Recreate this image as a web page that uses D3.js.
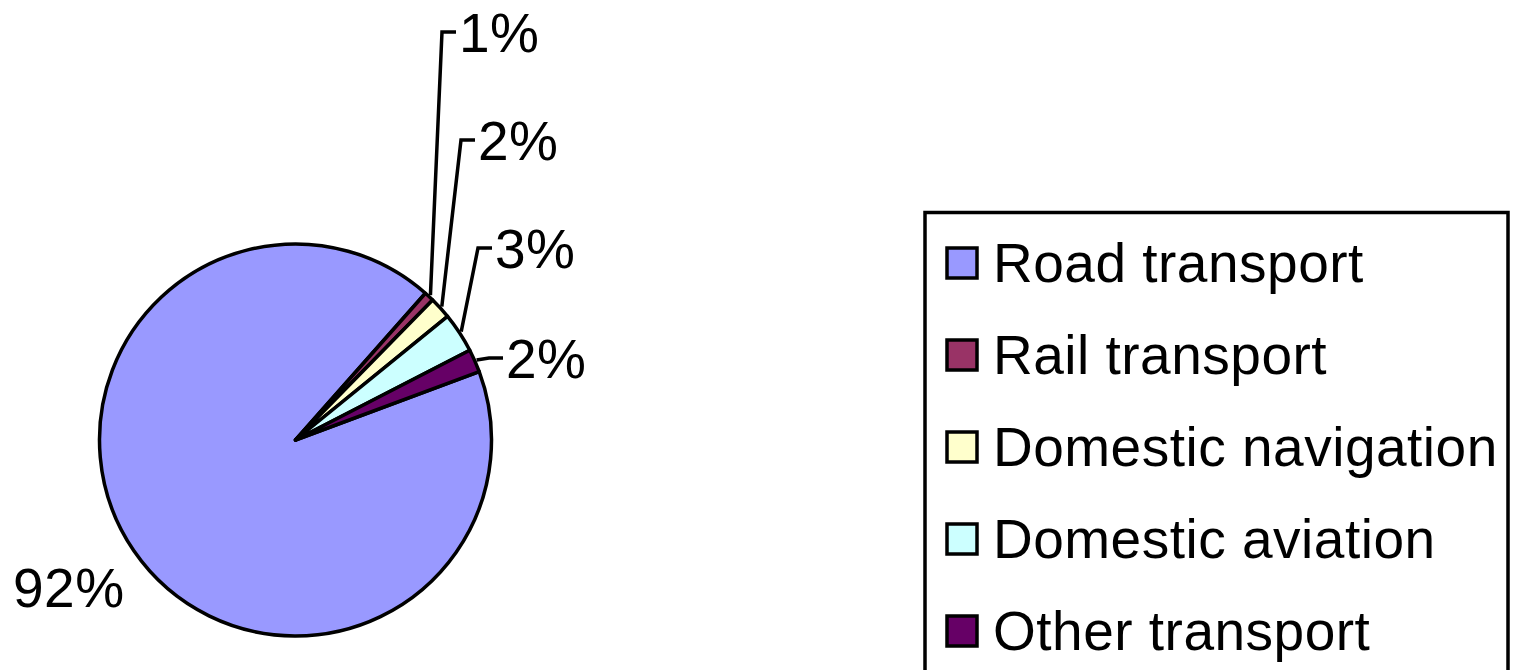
<!DOCTYPE html>
<html>
<head>
<meta charset="utf-8">
<script src="https://cdn.jsdelivr.net/npm/d3@7/dist/d3.min.js"></script>
<style>
  body { margin: 0; background: #fff; }
  text { font-family: "Liberation Sans", Arial, sans-serif; fill: #000; letter-spacing: 0.5px; }
</style>
</head>
<body>
<svg id="chart"></svg>
<script>
// data
const categories = ['Road transport', 'Rail transport', 'Domestic navigation', 'Domestic aviation', 'Other transport'];
const shares = [92.2, 0.8, 1.8, 3.3, 1.9];
const shareLabels = ['92%', '1%', '2%', '3%', '2%'];
const colors = ['#9999ff', '#993366', '#ffffcc', '#ccffff', '#660066'];

// layout
const width = 1516, height = 670;
const cx = 295.5, cy = 440, radius = 196;
const startDeg = 69.6;
const fontSize = 55;
// where the data labels sit (text start x, baseline y); leader = has a leader line
const labelSpots = [
  { x: 13, y: 607, leader: false },
  { x: 459, y: 52, leader: true },
  { x: 478, y: 160, leader: true },
  { x: 495, y: 268, leader: true },
  { x: 506, y: 378, leader: true }
];

const svg = d3.select('#chart').attr('width', width).attr('height', height);

const pie = d3.pie()
  .sort(null)
  .value(d => d)
  .startAngle(startDeg * Math.PI / 180)
  .endAngle((startDeg + 360) * Math.PI / 180);

const arcs = pie(shares);
const arc = d3.arc().innerRadius(0).outerRadius(radius);

const g = svg.append('g').attr('transform', `translate(${cx},${cy})`);

g.selectAll('path')
  .data(arcs)
  .join('path')
  .attr('d', arc)
  .attr('fill', (d, i) => colors[i])
  .attr('stroke', '#000')
  .attr('stroke-width', 3.5)
  .attr('stroke-linejoin', 'round');

// labels + leader lines
arcs.forEach((a, i) => {
  const spot = labelSpots[i];
  if (spot.leader) {
    const mid = (a.startAngle + a.endAngle) / 2;
    const sx = cx + (radius + 2) * Math.sin(mid);
    const sy = cy - (radius + 2) * Math.cos(mid);
    const ly = spot.y - 20;
    svg.append('polyline')
      .attr('points', `${sx},${sy} ${spot.x - 17},${ly} ${spot.x - 3},${ly}`)
      .attr('fill', 'none')
      .attr('stroke', '#000')
      .attr('stroke-width', 3.5);
  }
  svg.append('text')
    .attr('x', spot.x)
    .attr('y', spot.y)
    .style('font-size', fontSize + 'px')
    .text(shareLabels[i]);
});

// legend
const legend = svg.append('g');
legend.append('rect')
  .attr('x', 925)
  .attr('y', 212.5)
  .attr('width', 583)
  .attr('height', 500)
  .attr('fill', '#fff')
  .attr('stroke', '#000')
  .attr('stroke-width', 3.5);

const rowY = d3.scalePoint().domain(categories).range([263, 631]);

const items = legend.selectAll('g.item')
  .data(categories)
  .join('g')
  .attr('class', 'item')
  .attr('transform', d => `translate(0,${rowY(d)})`);

items.append('rect')
  .attr('x', 947)
  .attr('y', -15)
  .attr('width', 30)
  .attr('height', 30)
  .attr('fill', (d, i) => colors[i])
  .attr('stroke', '#000')
  .attr('stroke-width', 3.5);

items.append('text')
  .attr('x', 993)
  .attr('y', 19)
  .style('font-size', fontSize + 'px')
  .text(d => d);
</script>
</body>
</html>
